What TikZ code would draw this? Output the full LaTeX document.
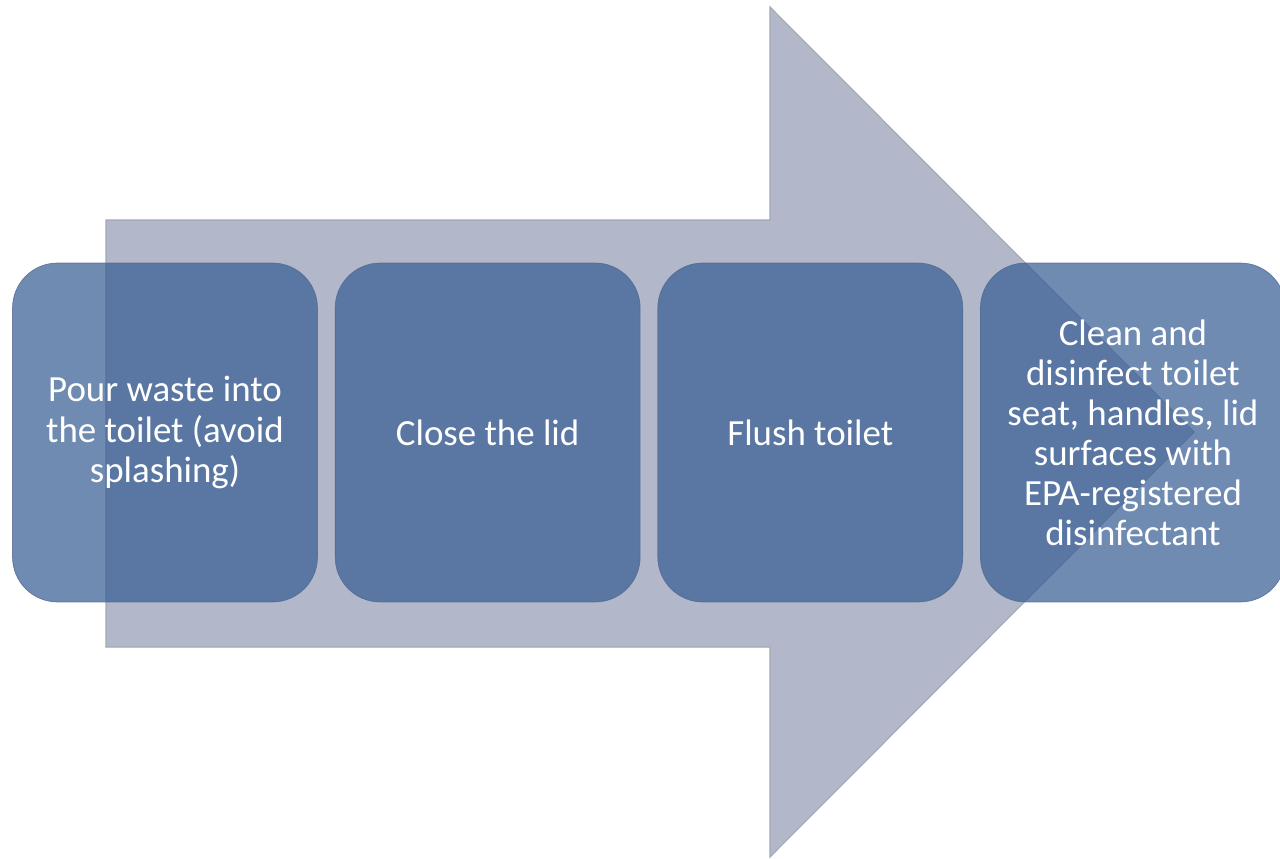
\documentclass[tikz,border=0pt]{standalone}
\usepackage{fontspec}
\setsansfont{Carlito}
\usepackage{tikz}
\usetikzlibrary{positioning}
\definecolor{stepblue}{HTML}{385E94}
\definecolor{stepedge}{HTML}{4F6890}
\definecolor{flowgrey}{HTML}{B2B8C9}
\definecolor{flowedge}{HTML}{A2A8B4}
\tikzset{
  stepbox/.style={
    rectangle, rounded corners=0.9cm, draw=stepedge, fill=stepblue,
    fill opacity=0.72, draw opacity=0.8, text opacity=1, text=white,
    minimum width=6.1cm, minimum height=6.78cm, inner sep=0pt,
    font=\sffamily\fontsize{21}{22.8}\selectfont, align=center
  },
  flowarrow/.style={
    draw=flowedge, fill=flowgrey, line width=0.6pt, line join=miter
  },
}

\begin{document}
\begin{tikzpicture}[x=0.02cm, y=-0.02cm, node distance=0.34cm]
\useasboundingbox (0,0) rectangle (1280,858);
% big arrow behind the steps
\draw[flowarrow] (106,220) -- (770,220) -- (770,7) -- (1194,432)
  -- (770,857) -- (770,647) -- (106,647) -- cycle;
% steps
\node[stepbox] (pour) at (165,432.5) {Pour waste into\\the toilet (avoid\\splashing)};
\node[stepbox, right=of pour] (lid) {Close the lid};
\node[stepbox, right=of lid] (flush) {Flush toilet};
\node[stepbox, right=of flush] (clean) {Clean and\\disinfect toilet\\seat, handles, lid\\surfaces with\\EPA-registered\\disinfectant};
\end{tikzpicture}
\end{document}
